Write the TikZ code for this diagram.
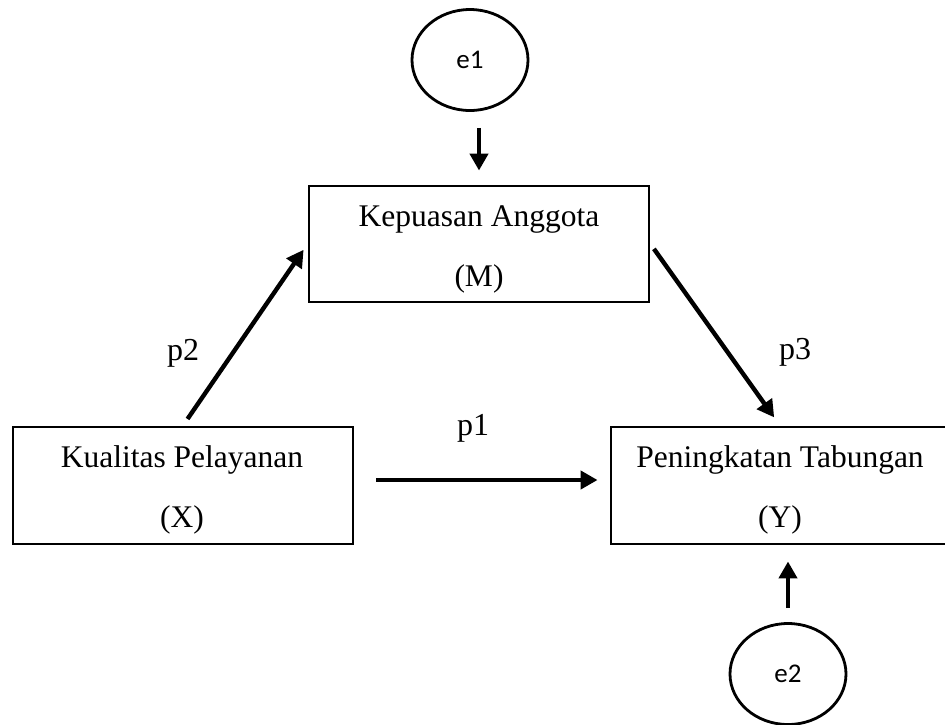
\documentclass[tikz,border=0pt]{standalone}
\usepackage{fontspec}
\setmainfont{Liberation Serif}
\newfontfamily\calib{Carlito}
\usetikzlibrary{arrows.meta,shapes.geometric}
\tikzset{
  box/.style={draw, line width=2.9pt, rectangle, inner sep=0pt},
  txt/.style={align=center, inner sep=0pt, font=\fontsize{31.5}{60}\selectfont},
  err/.style={draw, line width=2.8pt, ellipse, inner sep=0pt, minimum width=116pt, minimum height=101pt, font=\calib\fontsize{27}{32}\selectfont},
  lbl/.style={inner sep=0pt, font=\fontsize{32}{38}\selectfont},
  arr/.style={line width=4.4pt, -{Triangle[length=17pt,width=18pt]}}
}
\begin{document}
\begin{tikzpicture}[x=1pt,y=-1pt]
\useasboundingbox (0,0) rectangle (945,724);
% boxes
\node[box, minimum width=340pt, minimum height=116pt] (M) at (479,244) {};
\node[box, minimum width=340pt, minimum height=117pt] (X) at (183,485.5) {};
\node[box, minimum width=338pt, minimum height=117pt] (Y) at (780,485.5) {};
% box texts
\node[txt] (Mt) at (479,249) {Kepuasan Anggota\\(M)};
\node[txt] (Xt) at (182,490) {Kualitas Pelayanan\\(X)};
\node[txt] (Yt) at (780,490) {Peningkatan Tabungan\\(Y)};
% error terms
\node[err] (e1) at (470,60) {e1};
\node[err] (e2) at (788,674) {e2};
% labels
\node[lbl] (p2) at (183,353) {p2};
\node[lbl] (p3) at (795,352) {p3};
\node[lbl] (p1) at (473,428) {p1};
% connectors
\draw[arr, shorten <=16pt, shorten >=14pt] (M.north |- e1.south) -- (M.north);
\draw[arr, shorten <=14pt, shorten >=16pt] (e2.north) -- (e2.north |- Y.south);
\draw[arr, shorten <=8pt, shorten >=7pt] (X.north) -- (M.west);
\draw[arr, shorten <=6pt, shorten >=10pt] (M.east) -- (Y.north);
\draw[arr, shorten <=22pt, shorten >=12pt] ([yshift=5.5pt]X.east) -- ([yshift=5.5pt]Y.west);
\end{tikzpicture}
\end{document}
